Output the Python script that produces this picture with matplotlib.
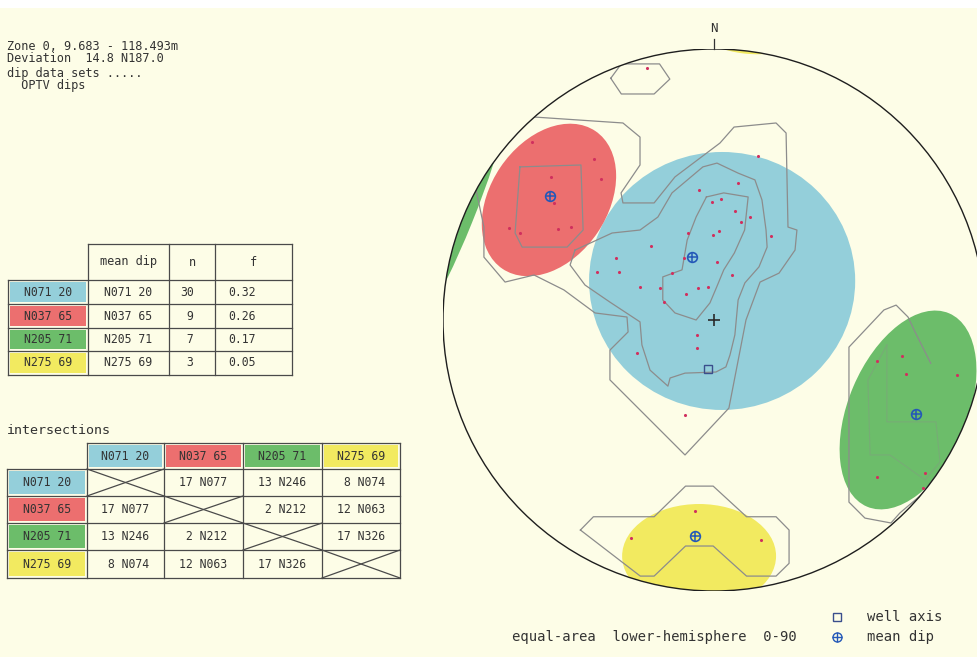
import numpy as np
import matplotlib
matplotlib.use("Agg")
import matplotlib.pyplot as plt
from matplotlib.patches import Ellipse, Circle, Rectangle

# ------------------------------------------------------------------ data
info_lines = ["Zone 0, 9.683 - 118.493m", "Deviation  14.8 N187.0",
              "dip data sets .....", "  OPTV dips"]

set_names = ["N071 20", "N037 65", "N205 71", "N275 69"]
set_azimuth = [71, 37, 205, 275]
set_dip = [20, 65, 71, 69]
set_n = [30, 9, 7, 3]
set_f = [0.32, 0.26, 0.17, 0.05]
set_colors = ["#94CFDA", "#EC6F6F", "#6CBD6A", "#F2EA60"]

inter_plunge = [[None, 17, 13, 8], [17, None, 2, 12], [13, 2, None, 17], [8, 12, 17, None]]
inter_azimuth = [[None, 77, 246, 74], [77, None, 212, 63], [246, 212, None, 326], [74, 63, 326, None]]

well_azimuth, well_dip = 187.0, 14.8
display_rotation = -90  # azimuth offset used by the plot for the mean dips

# poles as (east, north) on the net (net radius = 1)
poles_outlier = [(-0.247, 0.930)]
poles_blue = [(0.161, 0.605), (0.090, 0.506), (-0.054, 0.480), (0.024, 0.446), (-0.009, 0.435),
              (0.079, 0.402), (0.132, 0.380), (0.098, 0.362), (-0.097, 0.321), (0.017, 0.328),
              (-0.003, 0.314), (0.209, 0.310), (-0.234, 0.273), (-0.109, 0.229), (-0.362, 0.229),
              (0.010, 0.214), (-0.432, 0.177), (-0.352, 0.177), (-0.154, 0.173), (0.066, 0.166),
              (-0.272, 0.122), (-0.201, 0.118), (-0.060, 0.118), (-0.022, 0.122), (-0.105, 0.096),
              (-0.185, 0.066), (-0.062, -0.055), (-0.062, -0.103), (-0.283, -0.122), (-0.107, -0.351)]
poles_red = [(-0.670, 0.657), (-0.441, 0.594), (-0.603, 0.528), (-0.417, 0.520), (-0.590, 0.432),
             (-0.757, 0.339), (-0.717, 0.321), (-0.577, 0.336), (-0.529, 0.343)]
poles_green = [(0.603, -0.150), (0.693, -0.133), (0.708, -0.199), (0.898, -0.203),
               (0.600, -0.578), (0.780, -0.566), (0.770, -0.621)]
poles_yellow = [(-0.070, -0.705), (-0.306, -0.804), (0.175, -0.812)]

# confidence cones (net units)
cone_centers = [(0.030, 0.144), (-0.609, 0.443), (0.716, -0.332), (-0.055, -0.871)]
cone_widths = [0.982, 0.613, 0.775, 0.568]
cone_heights = [0.952, 0.432, 0.439, 0.384]
cone_angles = [0, 56, 67, 0]
# parts of cones wrapping round to the opposite side of the net
wrap_centers = [(-0.986, 0.396), (0.117, 1.033)]
wrap_widths = [1.2, 0.30]
wrap_heights = [0.2, 0.10]
wrap_angles = [68, -6.5]
wrap_sets = [2, 3]

# density contours (net units)
contour_top = [(-0.381, 0.892), (-0.342, 0.945), (-0.201, 0.945), (-0.163, 0.889),
               (-0.221, 0.834), (-0.342, 0.834)]
contour_outer = [(-0.878, 0.480), (-0.849, 0.343), (-0.849, 0.232), (-0.771, 0.140), (-0.664, 0.166),
                 (-0.554, 0.111), (-0.439, 0.026), (-0.321, 0.011), (-0.317, -0.044), (-0.384, -0.111),
                 (-0.384, -0.221), (-0.107, -0.498), (0.055, -0.325), (0.118, 0.000), (0.170, 0.140),
                 (0.240, 0.173), (0.299, 0.258), (0.306, 0.332), (0.273, 0.343), (0.266, 0.690),
                 (0.229, 0.727), (0.074, 0.712), (0.022, 0.653), (-0.144, 0.528), (-0.221, 0.432),
                 (-0.336, 0.432), (-0.343, 0.469), (-0.273, 0.572), (-0.273, 0.675), (-0.336, 0.727),
                 (-0.664, 0.749)]
contour_red = [(-0.716, 0.565), (-0.491, 0.572), (-0.483, 0.332), (-0.542, 0.269),
               (-0.708, 0.269), (-0.734, 0.321)]
contour_blue_mid = [(-0.513, 0.258), (-0.376, 0.321), (-0.273, 0.332), (-0.207, 0.380), (-0.155, 0.469),
                    (-0.041, 0.565), (0.011, 0.579), (0.089, 0.542), (0.151, 0.517), (0.177, 0.443),
                    (0.192, 0.332), (0.196, 0.269), (0.166, 0.196), (0.114, 0.137), (0.089, 0.074),
                    (0.077, -0.055), (0.059, -0.129), (0.044, -0.173), (0.007, -0.192), (-0.107, -0.196),
                    (-0.162, -0.214), (-0.170, -0.244), (-0.236, -0.185), (-0.266, -0.092),
                    (-0.273, -0.007), (-0.384, 0.066), (-0.476, 0.129), (-0.531, 0.203)]
contour_blue_core = [(-0.028, 0.454), (0.036, 0.469), (0.126, 0.454), (0.113, 0.332), (0.075, 0.247),
                     (0.036, 0.185), (0.010, 0.122), (-0.015, 0.063), (-0.066, 0.000), (-0.144, 0.026),
                     (-0.189, 0.074), (-0.189, 0.159), (-0.118, 0.185), (-0.099, 0.295), (-0.066, 0.380)]
contour_green = [(0.83, -0.56), (0.771, -0.64), (0.686, -0.712), (0.653, -0.749), (0.557, -0.731),
                 (0.498, -0.672), (0.498, -0.100), (0.627, 0.037), (0.672, 0.055), (0.716, 0.011),
                 (0.74, -0.04), (0.80, -0.16)]
contour_green_inner = [(0.638, -0.092), (0.638, -0.376), (0.819, -0.376), (0.834, -0.524),
                       (0.779, -0.590), (0.649, -0.498), (0.576, -0.498), (0.568, -0.221)]
contour_yellow = [(-0.493, -0.775), (-0.445, -0.726), (-0.221, -0.726), (-0.105, -0.613), (-0.003, -0.613),
                  (0.120, -0.726), (0.229, -0.726), (0.277, -0.775), (0.277, -0.898), (0.229, -0.945),
                  (0.120, -0.945), (-0.003, -0.834), (-0.105, -0.834), (-0.221, -0.945), (-0.272, -0.945)]

legend_caption = "equal-area  lower-hemisphere  0-90"

# ------------------------------------------------------------------ style
W, H = 978, 657
BG = "#FDFDE7"
INK = "#333333"
GRID = "#4A4A4A"
MONO = ["DejaVu Sans Mono"]
MEAN_C = "#2458B8"
POLE_C = "#D0305E"
CONT_C = "#8C8C8C"


def project(az, dip, rot=0.0):
    r = np.sqrt(2.0) * np.sin(np.radians(dip) / 2.0)
    a = np.radians(az + rot)
    return r * np.sin(a), r * np.cos(a)


fig = plt.figure(figsize=(W / 100, H / 100), dpi=100)
fig.patch.set_facecolor(BG)

ax = fig.add_axes([0, 0, 1, 1])
ax.set_xlim(0, W)
ax.set_ylim(H, 0)
ax.axis("off")
ax.add_patch(Rectangle((0, 0), W, 8, facecolor="white", edgecolor="none", zorder=0))

# info text
for s, y in zip(info_lines, [46, 58, 74, 86]):
    ax.text(7, y, s, family=MONO, fontsize=8.6, color=INK, ha="left", va="center")

# ---------------- table 1: mean dips
t1_x = [8, 88, 169, 215, 292]
t1_y = [244, 280, 304, 328, 351, 375]
ax.plot([t1_x[1], t1_x[-1]], [t1_y[0], t1_y[0]], color=GRID, lw=0.9)
for y in t1_y[1:]:
    ax.plot([t1_x[0], t1_x[-1]], [y, y], color=GRID, lw=0.9)
ax.plot([t1_x[0], t1_x[0]], [t1_y[1], t1_y[-1]], color=GRID, lw=0.9)
for x in t1_x[1:]:
    ax.plot([x, x], [t1_y[0], t1_y[-1]], color=GRID, lw=0.9)
hy = (t1_y[0] + t1_y[1]) / 2
ax.text((t1_x[1] + t1_x[2]) / 2, hy, "mean dip", family=MONO, fontsize=8.6, color=INK, ha="center", va="center")
ax.text((t1_x[2] + t1_x[3]) / 2, hy, "n", family=MONO, fontsize=8.6, color=INK, ha="center", va="center")
ax.text((t1_x[3] + t1_x[4]) / 2, hy, "f", family=MONO, fontsize=8.6, color=INK, ha="center", va="center")
for i, name in enumerate(set_names):
    y0, y1 = t1_y[i + 1], t1_y[i + 2]
    yc = (y0 + y1) / 2
    ax.add_patch(Rectangle((t1_x[0] + 2, y0 + 2), t1_x[1] - t1_x[0] - 4, y1 - y0 - 4,
                           facecolor=set_colors[i], edgecolor="none", zorder=1))
    ax.text((t1_x[0] + t1_x[1]) / 2, yc, name, family=MONO, fontsize=8.3, color=INK, ha="center", va="center")
    ax.text((t1_x[1] + t1_x[2]) / 2, yc, f"N{set_azimuth[i]:03d} {set_dip[i]}", family=MONO,
            fontsize=8.3, color=INK, ha="center", va="center")
    ax.text(187, yc, f"{set_n[i]:2d}", family=MONO, fontsize=8.3, color=INK, ha="center", va="center")
    ax.text(t1_x[3] + 13, yc, f"{set_f[i]:.2f}", family=MONO, fontsize=8.3, color=INK, ha="left", va="center")

# ---------------- table 2: intersections
ax.text(7, 430, "intersections", family=MONO, fontsize=9.6, color=INK, ha="left", va="center")
t2_x = [7, 87, 164, 243, 322, 400]
t2_y = [443, 469, 496, 523, 550, 578]
ax.plot([t2_x[1], t2_x[-1]], [t2_y[0], t2_y[0]], color=GRID, lw=0.9)
for y in t2_y[1:]:
    ax.plot([t2_x[0], t2_x[-1]], [y, y], color=GRID, lw=0.9)
ax.plot([t2_x[0], t2_x[0]], [t2_y[1], t2_y[-1]], color=GRID, lw=0.9)
for x in t2_x[1:]:
    ax.plot([x, x], [t2_y[0], t2_y[-1]], color=GRID, lw=0.9)
for i, name in enumerate(set_names):
    # header cell
    x0, x1 = t2_x[i + 1], t2_x[i + 2]
    ax.add_patch(Rectangle((x0 + 2, t2_y[0] + 2), x1 - x0 - 4, t2_y[1] - t2_y[0] - 4,
                           facecolor=set_colors[i], edgecolor="none", zorder=1))
    ax.text((x0 + x1) / 2, (t2_y[0] + t2_y[1]) / 2, name, family=MONO, fontsize=8.3, color=INK,
            ha="center", va="center")
    # row label cell
    y0, y1 = t2_y[i + 1], t2_y[i + 2]
    ax.add_patch(Rectangle((t2_x[0] + 2, y0 + 2), t2_x[1] - t2_x[0] - 4, y1 - y0 - 4,
                           facecolor=set_colors[i], edgecolor="none", zorder=1))
    ax.text((t2_x[0] + t2_x[1]) / 2, (y0 + y1) / 2, name, family=MONO, fontsize=8.3, color=INK,
            ha="center", va="center")
    for j in range(4):
        cx0, cx1 = t2_x[j + 1], t2_x[j + 2]
        if inter_plunge[i][j] is None:
            ax.plot([cx0, cx1], [y0, y1], color=GRID, lw=0.9)
            ax.plot([cx0, cx1], [y1, y0], color=GRID, lw=0.9)
        else:
            ax.text((cx0 + cx1) / 2, (y0 + y1) / 2, f"{inter_plunge[i][j]:2d} N{inter_azimuth[i][j]:03d}",
                    family=MONO, fontsize=8.3, color=INK, ha="center", va="center")

# ---------------- legend
ax.plot([837], [617], marker="s", ms=5.5, mfc="none", mec="#3A4E8C", mew=1.0, ls="none")
ax.plot([837], [637], marker="o", ms=6.5, mfc="none", mec=MEAN_C, mew=1.0, ls="none")
ax.plot([837], [637], marker="+", ms=6.5, mec=MEAN_C, mew=1.0, ls="none")
ax.text(867, 617, "well axis", family=MONO, fontsize=10, color=INK, ha="left", va="center")
ax.text(867, 637, "mean dip", family=MONO, fontsize=10, color=INK, ha="left", va="center")
ax.text(512, 637, legend_caption, family=MONO, fontsize=10, color=INK, ha="left", va="center")

# ---------------- stereonet
cx, cy, R = 714, 320, 271
net = fig.add_axes([(cx - R) / W, (H - cy - R) / H, 2 * R / W, 2 * R / H])
net.set_xlim(-1, 1)
net.set_ylim(-1, 1)
net.axis("off")

clip = Circle((0, 0), 1.0, facecolor="none", edgecolor="none")
net.add_patch(clip)

for c, w, h, a, col in zip(cone_centers, cone_widths, cone_heights, cone_angles, set_colors):
    e = Ellipse(c, w, h, angle=a, facecolor=col, edgecolor="none", zorder=1)
    net.add_patch(e)
    e.set_clip_path(clip)
for c, w, h, a, k in zip(wrap_centers, wrap_widths, wrap_heights, wrap_angles, wrap_sets):
    e = Ellipse(c, w, h, angle=a, facecolor=set_colors[k], edgecolor="none", zorder=1)
    net.add_patch(e)
    e.set_clip_path(clip)

closed = [contour_top, contour_red, contour_blue_mid, contour_blue_core, contour_yellow]
for pts in closed:
    arr = np.array(pts + [pts[0]])
    ln, = net.plot(arr[:, 0], arr[:, 1], color=CONT_C, lw=0.9, zorder=2)
    ln.set_clip_path(clip)
for pts in [contour_outer, contour_green]:
    arr = np.array(pts)
    ln, = net.plot(arr[:, 0], arr[:, 1], color=CONT_C, lw=0.9, zorder=2)
    ln.set_clip_path(clip)
arr = np.array(contour_green_inner + [contour_green_inner[0]])
ln, = net.plot(arr[:, 0], arr[:, 1], color=CONT_C, lw=0.8, alpha=0.35, zorder=2)
ln.set_clip_path(clip)

net.add_patch(Circle((0, 0), 1.0, fill=False, edgecolor="#1E1E1E", lw=1.0, zorder=3))
net.plot([0, 0], [1.0, 1.037], color=INK, lw=0.9, zorder=3, clip_on=False)
net.text(0, 1.077, "N", family=MONO, fontsize=9, color=INK, ha="center", va="center")

all_poles = np.array(poles_outlier + poles_blue + poles_red + poles_green + poles_yellow)
net.scatter(all_poles[:, 0], all_poles[:, 1], s=5, color=POLE_C, zorder=4, linewidths=0)

# mean dips (from table values)
for az, dp in zip(set_azimuth, set_dip):
    x, y = project(az, dp, display_rotation)
    net.plot([x], [y], marker="o", ms=7, mfc="none", mec=MEAN_C, mew=1.2, zorder=5)
    net.plot([x], [y], marker="+", ms=7, mec=MEAN_C, mew=1.1, zorder=5)

# well axis and centre
wx, wy = project(well_azimuth, well_dip)
net.plot([wx], [wy], marker="s", ms=5.8, mfc="none", mec="#3A4E8C", mew=1.0, zorder=5)
net.plot([0], [0], marker="+", ms=8, mec="#2A2A2A", mew=1.2, zorder=5)

fig.savefig("out.png", dpi=100, facecolor=BG)
